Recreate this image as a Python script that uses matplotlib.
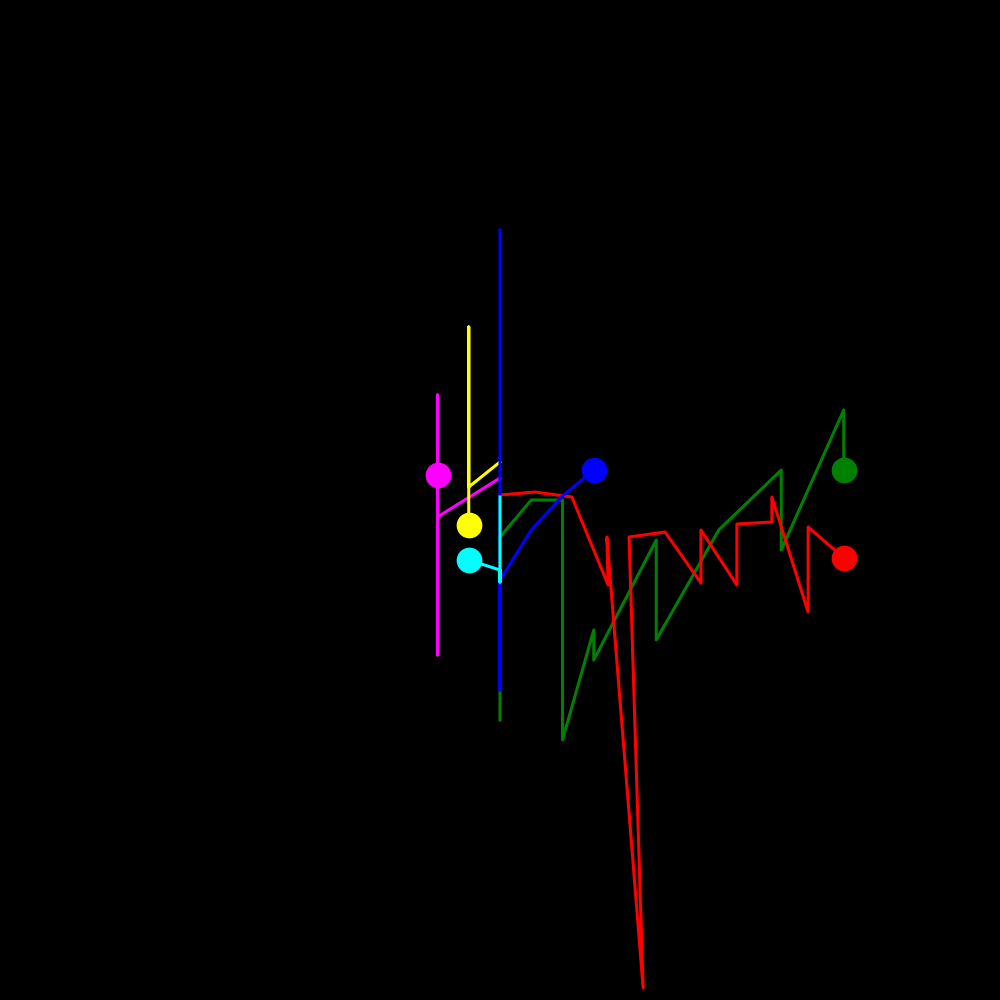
import matplotlib
matplotlib.use('Agg')
import matplotlib.pyplot as plt

# Path data per series (x steps, y values); last point gets the marker
magenta_x = [0, -2, -2, -2, -2]
magenta_y = [2.2, -1.7, -15.5, 10.5, 2.5]

yellow_x = [0, -1, -1, -1]
yellow_y = [3.8, 1.3, 17.3, -2.5]

cyan_x = [0, 0, 0, -1]
cyan_y = [0.3, -8.2, -7.0, -6.0]

blue_x = [0, 0, 0, 1, 2, 3]
blue_y = [27, -19, -8, -3, 0.4, 3]

green_x = [0, 0, 1, 2, 2, 3, 3, 5, 5, 7, 9, 9, 11, 11]
green_y = [-22, -3.7, 0, 0, -24, -13, -16, -4, -14, -3, 3, -5, 9, 3]

red_x = [0, 1.12, 2.3, 3.46, 3.42, 4.58, 4.13, 5.28, 6.43, 6.43, 7.58, 7.58,
         8.7, 8.7, 9.86, 9.86, 11]
red_y = [0.5, 0.8, 0.3, -8.5, -3.7, -48.8, -3.7, -3.2, -8.3, -3.0, -8.5, -2.4,
         -2.2, 0.3, -11.2, -2.7, -5.8]

series = [
    (magenta_x, magenta_y, '#ff00ff', 1),
    (yellow_x, yellow_y, '#ffff00', 2),
    (green_x, green_y, '#008000', 3),
    (red_x, red_y, '#ff0000', 4),
    (blue_x, blue_y, '#0000ff', 5),
    (cyan_x, cyan_y, '#00ffff', 6),
]

fig = plt.figure(figsize=(10, 10), dpi=100, facecolor='black')
ax = fig.add_axes([0, 0, 1, 1])
ax.set_facecolor('black')

for xs, ys, color, z in series:
    ax.plot(xs, ys, color=color, linewidth=2.2, zorder=z)
    ax.plot(xs[-1], ys[-1], 'o', color=color, markersize=17.5, zorder=z + 10)

ax.set_xlim(-16, 16)
ax.set_ylim(-50, 50)
ax.axis('off')

fig.savefig('out.png', dpi=100, facecolor='black')
